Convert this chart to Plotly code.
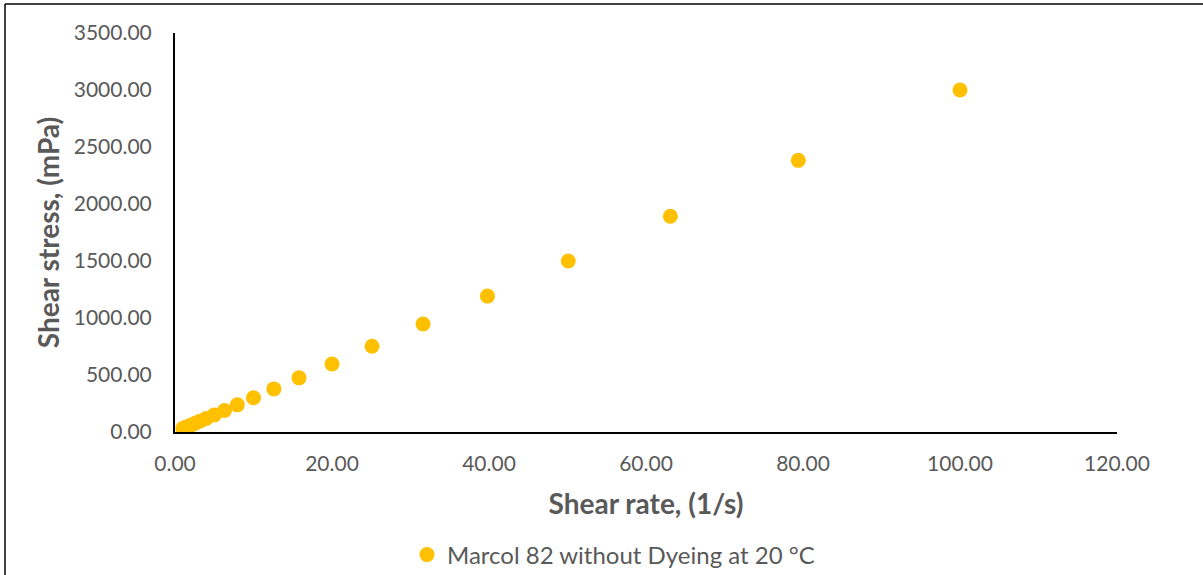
import plotly.graph_objects as go

# Shear rate (1/s) and measured shear stress (mPa)
shear_rate = [1.00, 1.26, 1.58, 2.00, 2.51, 3.16, 3.98, 5.01, 6.31, 7.94,
              10.0, 12.6, 15.8, 20.0, 25.1, 31.6, 39.8, 50.1, 63.1, 79.4, 100.0]
shear_stress = [30, 38, 47, 60, 75, 95, 119, 150, 189, 238,
                300, 378, 475, 596, 752, 947, 1192, 1500, 1893, 2383, 3000]
series_name = "Marcol 82 without Dyeing at 20 °C"

W, H = 1203, 575
ml, mr, mt, mb = 175, 86, 33, 143
FONT = "Lato"
GREY = "#595959"

fig = go.Figure()
fig.add_trace(go.Scatter(
    x=shear_rate, y=shear_stress, mode="markers", name=series_name,
    marker=dict(color="#FFC000", size=15, line=dict(width=0)),
))

fig.update_layout(
    width=W, height=H,
    margin=dict(l=ml, r=mr, t=mt, b=mb, autoexpand=False),
    paper_bgcolor="white", plot_bgcolor="white",
    font=dict(family=FONT, color=GREY, size=21),
    showlegend=True,
    legend=dict(orientation="h", x=0.5 + 12 / W, xanchor="center", xref="container",
                y=1 - 555 / H, yanchor="middle", yref="container",
                font=dict(size=24, color=GREY, family=FONT), itemsizing="trace"),
    xaxis=dict(
        range=[0, 120], tick0=0, dtick=20, tickformat=".2f",
        showgrid=False, zeroline=False, showline=True, linecolor="black", linewidth=2,
        ticks="", ticklabelstandoff=12, automargin=False,
        title=dict(text="<b>Shear rate, (1/s)</b>", font=dict(size=28, color=GREY), standoff=20),
    ),
    yaxis=dict(
        range=[0, 3500], tick0=0, dtick=500, tickformat=".2f",
        showgrid=False, zeroline=False, showline=True, linecolor="black", linewidth=2,
        ticks="", ticklabelstandoff=17, automargin=False,
        title=dict(text="<b>Shear stress, (mPa)</b>", font=dict(size=28, color=GREY), standoff=6),
    ),
)

# Outer frame on the left and top edges of the chart area
px2x = lambda px: (px - ml) / (W - ml - mr)
px2y = lambda py: (H - mb - py) / (H - mt - mb)
fig.add_shape(type="line", xref="paper", yref="paper",
              x0=px2x(5), x1=px2x(1210), y0=px2y(4), y1=px2y(4),
              line=dict(color="black", width=1.5))
fig.add_shape(type="line", xref="paper", yref="paper",
              x0=px2x(5), x1=px2x(5), y0=px2y(4), y1=px2y(580),
              line=dict(color="black", width=1.5))

fig.write_html("out.html")
